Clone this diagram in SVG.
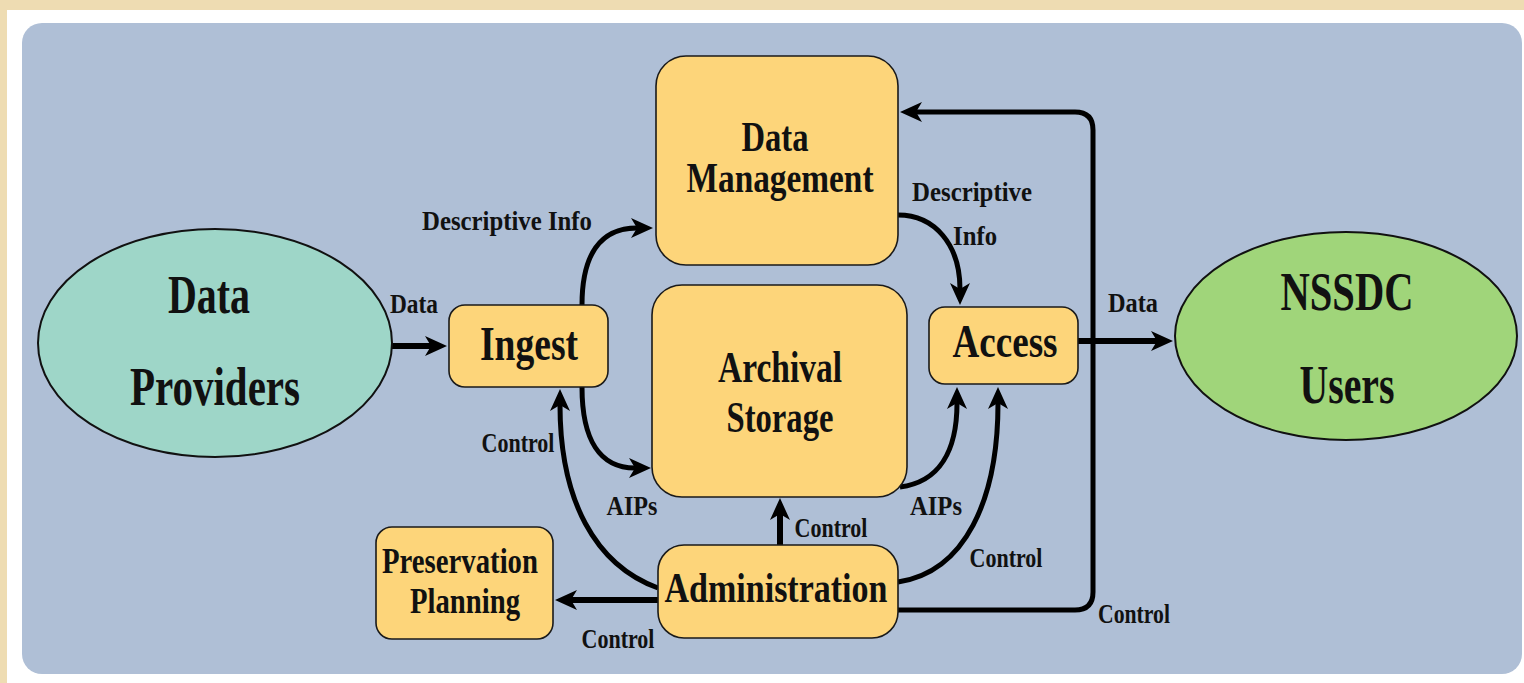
<svg xmlns="http://www.w3.org/2000/svg" width="1524" height="683" viewBox="0 0 1524 683">
<style>
.box{fill:#FDD57A;stroke:#1a1a1a;stroke-width:1.6}
.t{font-family:"Liberation Serif","Times New Roman",serif;font-weight:bold;fill:#111;text-anchor:middle}
.big{font-size:54px}
.lbl{font-size:27px}
.c{fill:none;stroke:#000;stroke-width:5;marker-end:url(#ah)}
.c6{fill:none;stroke:#000;stroke-width:6;marker-end:url(#ah)}
</style>
<defs>
<marker id="ah" markerUnits="userSpaceOnUse" markerWidth="30" markerHeight="26" viewBox="0 -13 30 26" refX="6" refY="0" orient="auto">
<path d="M0,-10 L22,0 L0,10 L6,0 z" fill="#000"/>
</marker>
</defs>
<rect x="0" y="0" width="1524" height="683" fill="#EEDCB2"/>
<rect x="7" y="10" width="1517" height="673" fill="#FFFFFF"/>
<rect x="22" y="23" width="1500" height="651" rx="20" fill="#AFBFD6"/>

<g id="connectors">
<path class="c6" d="M392,346 L431,346"/>
<path class="c" d="M582,305 C582,255 600,228 637,228"/>
<path class="c" d="M898,215 C935,215 960,245 960,289"/>
<path class="c6" d="M1078,341 L1157,341"/>
<path class="c" d="M898,610 L1075,610 Q1093,610 1093,592 L1093,130 Q1093,112 1075,112 L916,112"/>
<path class="c" d="M582,387 C582,440 600,468 635,468"/>
<path class="c" d="M658,588 C595,565 560,500 560,405"/>
<path class="c6" d="M658,600 L571,600"/>
<path class="c6" d="M780,545 L780,514"/>
<path class="c" d="M900,487 C940,482 957,450 957,403"/>
<path class="c" d="M898,582 C965,572 998,500 998,403"/>
</g>

<g id="labels">
<text class="t lbl" x="414" y="313" textLength="48" lengthAdjust="spacingAndGlyphs">Data</text>
<text class="t lbl" x="507" y="230" textLength="170" lengthAdjust="spacingAndGlyphs">Descriptive Info</text>
<text class="t lbl" x="972" y="201" textLength="120" lengthAdjust="spacingAndGlyphs">Descriptive</text>
<text class="t lbl" x="975" y="245" textLength="44" lengthAdjust="spacingAndGlyphs">Info</text>
<text class="t lbl" x="1133" y="312" textLength="50" lengthAdjust="spacingAndGlyphs">Data</text>
<text class="t lbl" x="518" y="452" textLength="73" lengthAdjust="spacingAndGlyphs">Control</text>
<text class="t lbl" x="632" y="515" textLength="51" lengthAdjust="spacingAndGlyphs">AIPs</text>
<text class="t lbl" x="618" y="648" textLength="73" lengthAdjust="spacingAndGlyphs">Control</text>
<text class="t lbl" x="831" y="537" textLength="73" lengthAdjust="spacingAndGlyphs">Control</text>
<text class="t lbl" x="936" y="515" textLength="52" lengthAdjust="spacingAndGlyphs">AIPs</text>
<text class="t lbl" x="1006" y="567" textLength="73" lengthAdjust="spacingAndGlyphs">Control</text>
<text class="t lbl" x="1134" y="623" textLength="72" lengthAdjust="spacingAndGlyphs">Control</text>
</g>

<g id="data-providers">
<ellipse cx="215" cy="343" rx="177" ry="114" fill="#9ED6C8" stroke="#111" stroke-width="2"/>
<text class="t big" x="209" y="313" textLength="82" lengthAdjust="spacingAndGlyphs">Data</text>
<text class="t big" x="215" y="405" textLength="170" lengthAdjust="spacingAndGlyphs">Providers</text>
</g>

<g id="nssdc-users">
<ellipse cx="1346" cy="336" rx="171" ry="104" fill="#A0D57A" stroke="#111" stroke-width="2"/>
<text class="t big" x="1347" y="310" textLength="133" lengthAdjust="spacingAndGlyphs">NSSDC</text>
<text class="t big" x="1347" y="403" textLength="95" lengthAdjust="spacingAndGlyphs">Users</text>
</g>

<g id="ingest">
<rect class="box" x="449" y="305" width="159" height="82" rx="16"/>
<text class="t" style="font-size:48px" x="529" y="360" textLength="98" lengthAdjust="spacingAndGlyphs">Ingest</text>
</g>

<g id="data-management">
<rect class="box" x="656" y="56" width="242" height="209" rx="30"/>
<text class="t" style="font-size:42px" x="775" y="151" textLength="67" lengthAdjust="spacingAndGlyphs">Data</text>
<text class="t" style="font-size:42px" x="780" y="192" textLength="187" lengthAdjust="spacingAndGlyphs">Management</text>
</g>

<g id="archival-storage">
<rect class="box" x="652" y="285" width="255" height="212" rx="30"/>
<text class="t" style="font-size:44px" x="780" y="382" textLength="124" lengthAdjust="spacingAndGlyphs">Archival</text>
<text class="t" style="font-size:44px" x="780" y="432" textLength="107" lengthAdjust="spacingAndGlyphs">Storage</text>
</g>

<g id="access">
<rect class="box" x="929" y="307" width="149" height="77" rx="16"/>
<text class="t" style="font-size:46px" x="1005" y="357" textLength="105" lengthAdjust="spacingAndGlyphs">Access</text>
</g>

<g id="preservation-planning">
<rect class="box" x="376" y="527" width="177" height="112" rx="16"/>
<text class="t" style="font-size:36px" x="460" y="573" textLength="156" lengthAdjust="spacingAndGlyphs">Preservation</text>
<text class="t" style="font-size:36px" x="465" y="613" textLength="110" lengthAdjust="spacingAndGlyphs">Planning</text>
</g>

<g id="administration">
<rect class="box" x="658" y="545" width="240" height="93" rx="26"/>
<text class="t" style="font-size:43px" x="776" y="602" textLength="223" lengthAdjust="spacingAndGlyphs">Administration</text>
</g>
</svg>
